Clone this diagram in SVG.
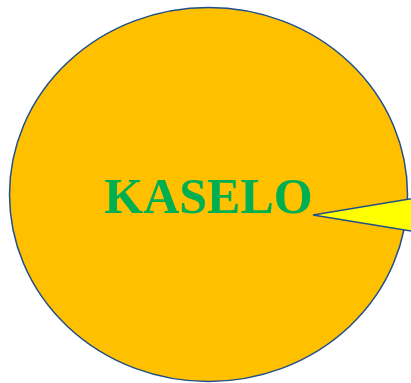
<svg xmlns="http://www.w3.org/2000/svg" width="411" height="383" viewBox="0 0 411 383">
<style>
.shape{stroke:#1F4E8C;stroke-width:1.5}
.label{font-family:"Liberation Serif","Times New Roman",serif;font-weight:bold;font-size:50px;fill:#00B050}
</style>
<rect width="411" height="383" fill="#FFFFFF"/>
<g id="circle">
<ellipse class="shape" cx="208.5" cy="194.5" rx="199" ry="187" fill="#FFC000"/>
<text class="label" x="208.5" y="213" text-anchor="middle">KASELO</text>
</g>
<g id="wedge">
<polygon class="shape" points="313,215 430,195.5 430,234" fill="#FFFF00"/>
</g>
</svg>
